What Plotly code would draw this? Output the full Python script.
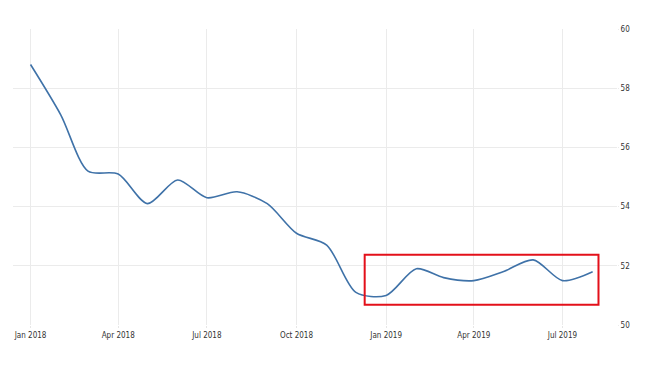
import plotly.graph_objects as go

dates = ["2018-01-01", "2018-02-01", "2018-03-01", "2018-04-01", "2018-05-01", "2018-06-01",
         "2018-07-01", "2018-08-01", "2018-09-01", "2018-10-01", "2018-11-01", "2018-12-01",
         "2019-01-01", "2019-02-01", "2019-03-01", "2019-04-01", "2019-05-01", "2019-06-01",
         "2019-07-01", "2019-08-01"]
values = [58.8, 57.1, 55.2, 55.1, 54.1, 54.9, 54.3, 54.5, 54.1, 53.1, 52.7, 51.1,
          51.0, 51.9, 51.6, 51.5, 51.8, 52.2, 51.5, 51.8]
tick_vals = ["2018-01-01", "2018-04-01", "2018-07-01", "2018-10-01",
             "2019-01-01", "2019-04-01", "2019-07-01"]
tick_text = ["Jan 2018", "Apr 2018", "Jul 2018", "Oct 2018", "Jan 2019", "Apr 2019", "Jul 2019"]
y_ticks = [50, 52, 54, 56, 58, 60]

fig = go.Figure()
fig.add_trace(go.Scatter(x=dates, y=values, mode="lines",
                         line=dict(color="#3f72a8", width=1.6, shape="spline", smoothing=0.8),
                         hoverinfo="skip", showlegend=False))

fig.add_shape(type="rect", xref="x", yref="y",
              x0="2018-12-10", x1="2019-08-07", y0=50.68, y1=52.37,
              line=dict(color="#e3101a", width=2), fillcolor="rgba(0,0,0,0)")

font = dict(family="Liberation Sans Narrow, DejaVu Sans Condensed, Arial", size=8, color="#333333")
fig.update_layout(
    width=651, height=363,
    margin=dict(l=5, r=42, t=21, b=46),
    paper_bgcolor="white", plot_bgcolor="white",
    xaxis=dict(range=["2017-12-14", "2019-08-26"], tickvals=tick_vals, ticktext=tick_text,
               showgrid=True, gridcolor="#ebebeb", gridwidth=1, zeroline=False,
               showline=False, tickfont=font, ticks="outside", ticklen=2, tickcolor="#e6e6e6"),
    yaxis=dict(range=[50, 60], tickvals=y_ticks, side="right", showgrid=True,
               gridcolor="#ebebeb", gridwidth=1, zeroline=False, showline=False,
               tickfont=font, ticks="outside", ticklen=1, tickcolor="#ebebeb"),
)
fig.write_html("out.html")
